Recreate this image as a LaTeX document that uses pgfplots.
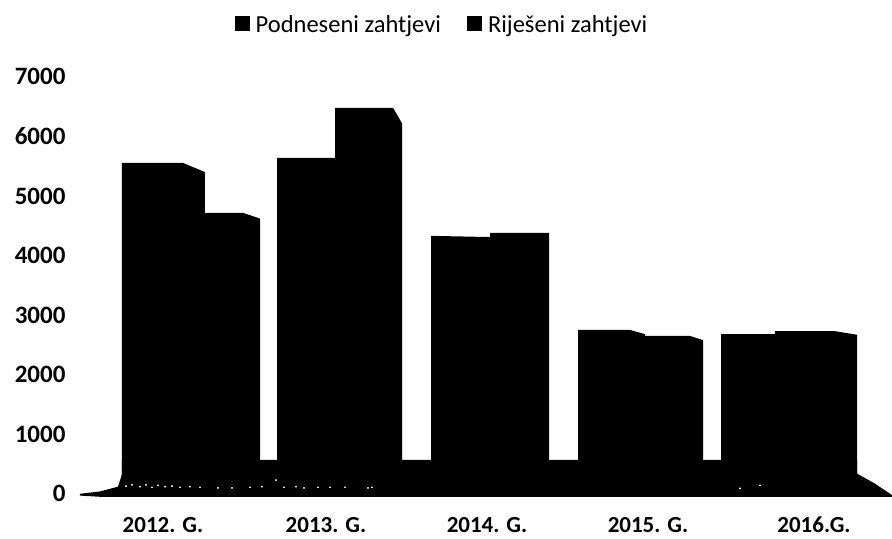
\documentclass[border=0pt]{standalone}
\usepackage{pgfplots}
\usepackage{fontspec}
\setmainfont{Carlito}
\pgfplotsset{compat=1.18}
\begin{document}
\begin{tikzpicture}[x=1pt,y=1pt]
\begin{axis}[
  scale only axis, width=812pt, height=420pt,
  xmin=80, xmax=892, ymin=-50, ymax=7000,
  clip=false,
  axis line style={draw=none}, tick style={draw=none},
  xtick={163,326,487,648,814},
  xticklabels={2012. G.,2013. G.,2014. G.,2015. G.,2016.G.},
  ytick={0,1000,2000,3000,4000,5000,6000,7000},
  /pgf/number format/assume math mode=true,
  /pgf/number format/set thousands separator={},
  xticklabel style={font=\fontsize{23}{23}\selectfont\bfseries, anchor=base, yshift=-36pt},
  yticklabel style={font=\fontsize{25}{25}\selectfont\bfseries, xshift=-11pt},
  legend style={draw=none, fill=none, at={(axis cs:442,7880)}, anchor=center,
    legend columns=2, font=\fontsize{24.5}{24.5}\selectfont,
    /tikz/every even column/.append style={column sep=24pt}},
  legend image code/.code={\fill[black] (0pt,-7pt) rectangle (15pt,8pt); \path (19pt,0pt);},
]
% floor of the 3D chart
\addplot[fill=black, draw=none, forget plot] coordinates {
  (80,-30)(80,0)(100,40)(118,120)(122,330)(122,570)(857,570)(857,340)(875,170)(892,-20)(892,-50)(100,-50)};
% Podneseni
\addplot[fill=black, draw=none] coordinates {
  (122,0)(122,5554)(183,5554)(205,5400)(205,0)
  (277,0)(277,5640)(335,5640)(335,0)
  (431,0)(431,4330)(490,4310)(490,0)
  (578,0)(578,2750)(630,2750)(645,2680)(645,0)
  (721,0)(721,2680)(775,2680)(775,0)};
\addlegendentry{Podneseni zahtjevi}
% Rijeseni
\addplot[fill=black, draw=none] coordinates {
  (205,0)(205,4715)(243,4715)(260,4620)(260,0)
  (335,0)(335,6480)(393,6480)(402,6220)(402,0)
  (490,0)(490,4380)(549,4380)(549,0)
  (645,0)(645,2650)(690,2650)(703,2580)(703,0)
  (775,0)(775,2730)(835,2730)(857,2670)(857,0)};
\addlegendentry{Riješeni zahtjevi}
% scan specks near the floor
\addplot[only marks, mark=*, mark size=0.7pt, white, forget plot] coordinates {
  (126,130)(132,150)(140,120)(146,150)(152,110)(158,140)(165,120)(172,130)(180,110)(190,120)
  (200,110)(218,100)(232,100)(250,110)(262,120)(276,230)(284,110)(296,120)(304,100)(318,110)(330,110)(345,110)(368,100)(372,110)(740,90)(760,140)};
\path[use as bounding box] (axis cs:0,8289) rectangle (axis cs:892,-755);
\end{axis}
\end{tikzpicture}
\end{document}
